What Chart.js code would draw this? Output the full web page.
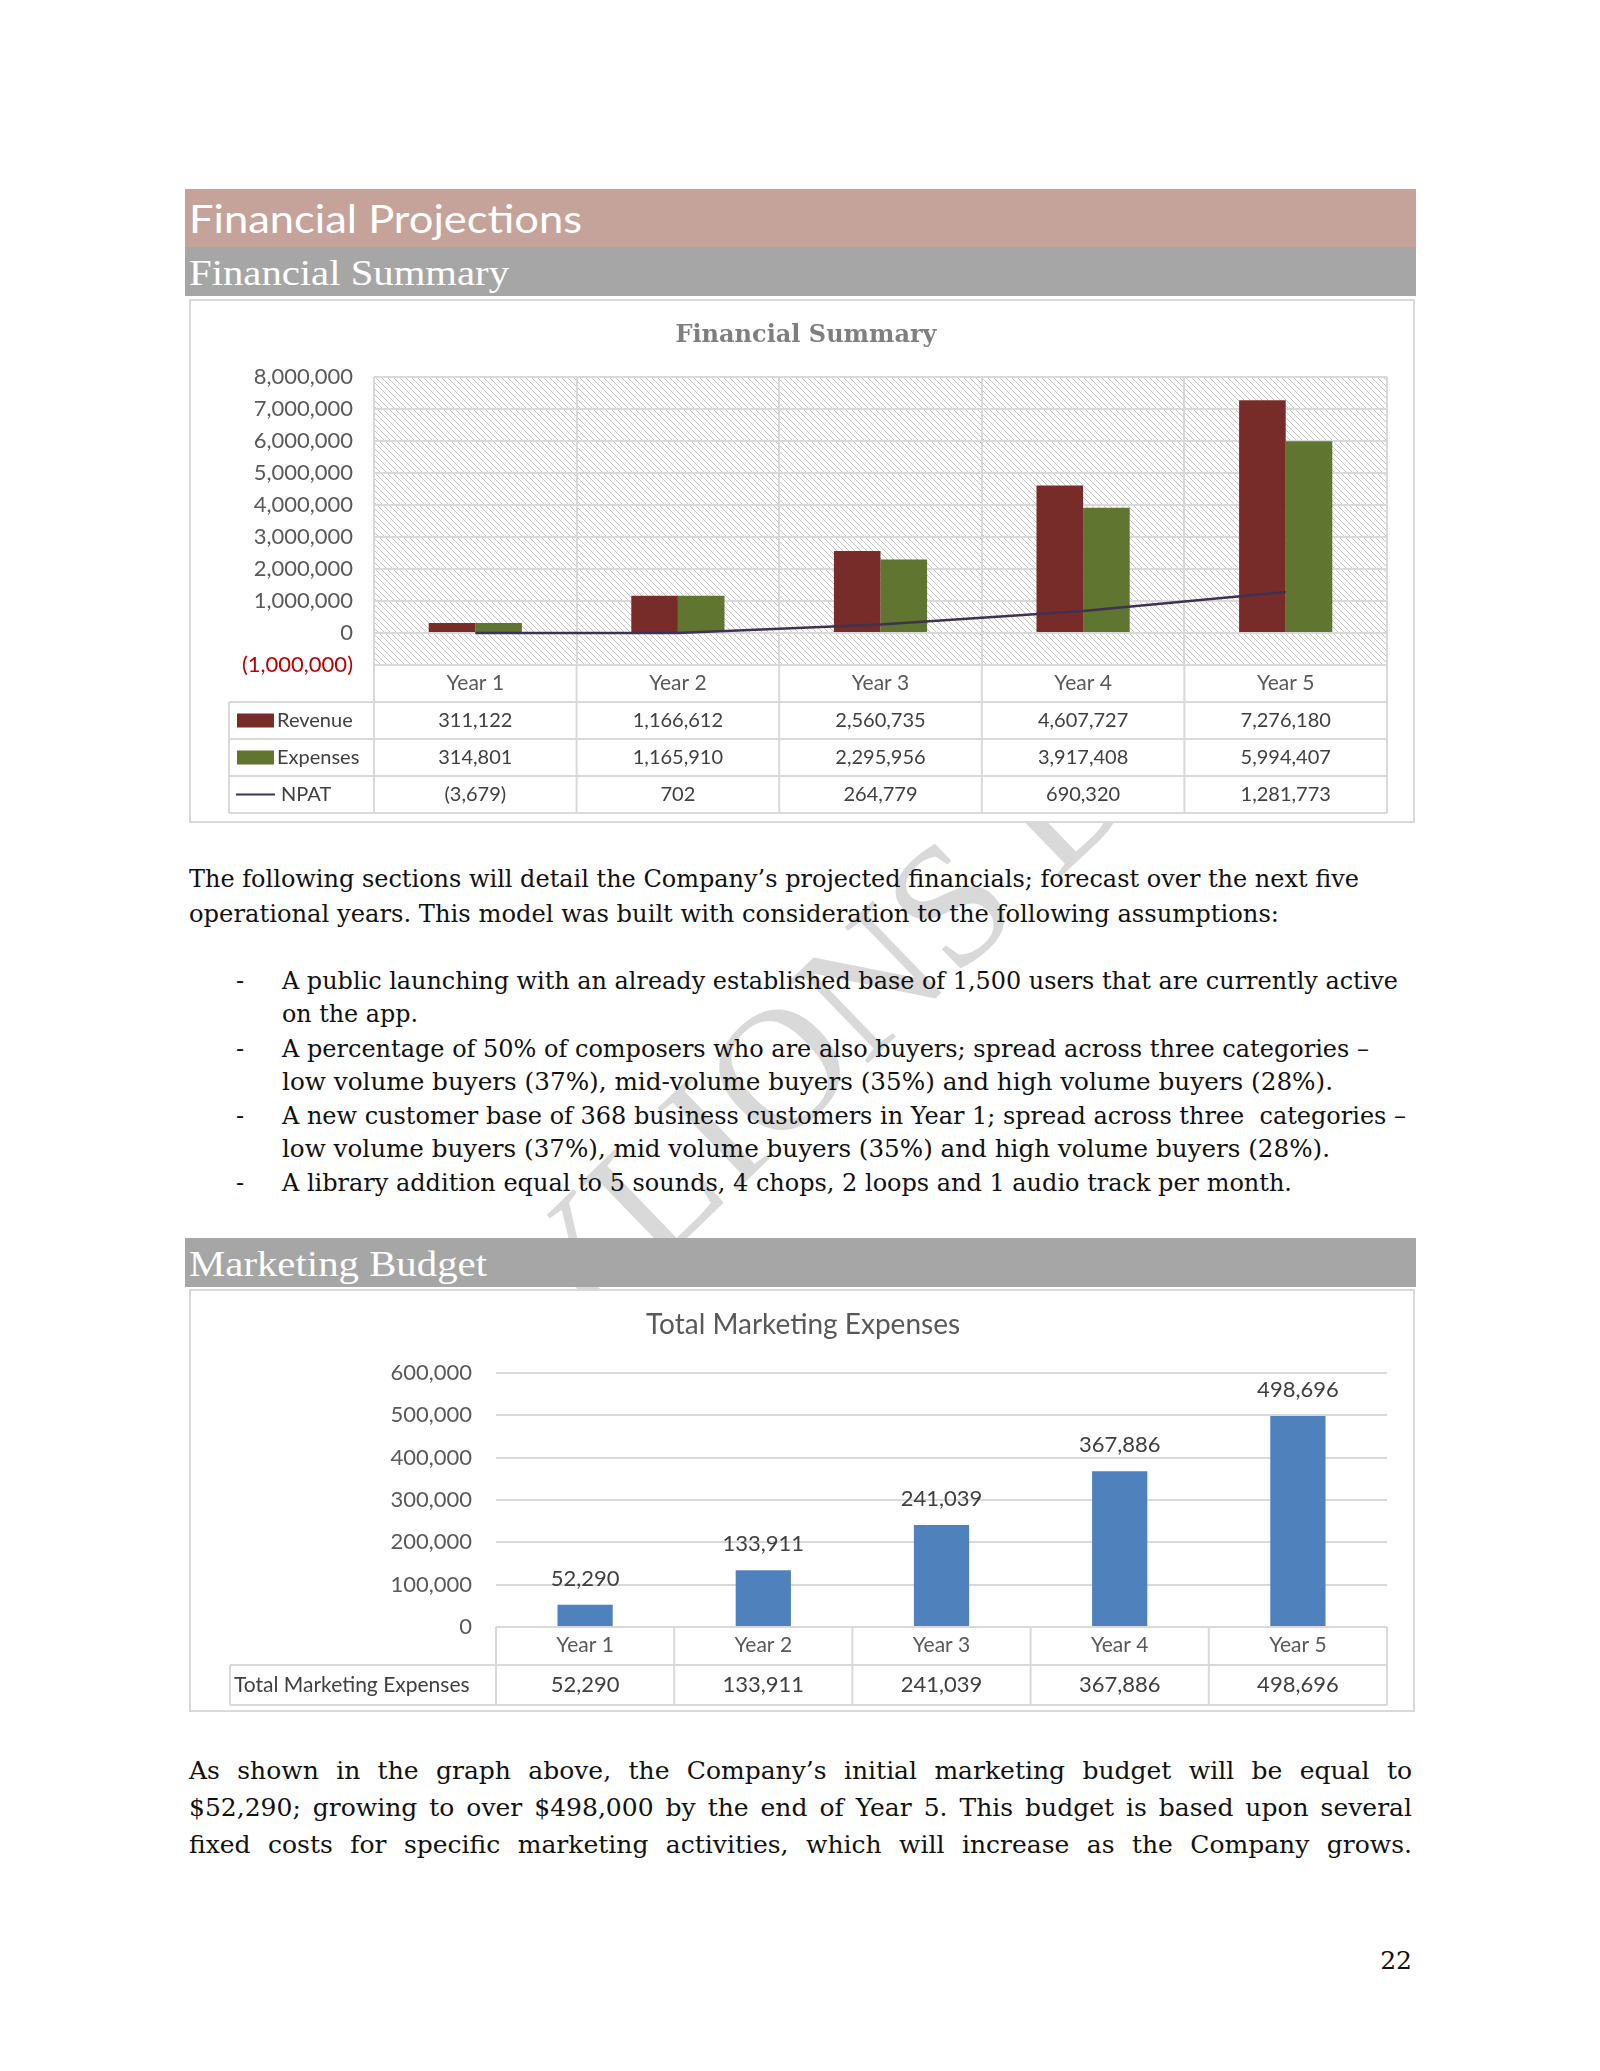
<!DOCTYPE html>
<html>
<head>
<meta charset="utf-8">
<script src="https://cdn.jsdelivr.net/npm/chart.js@4.4.1/dist/chart.umd.min.js"></script>
<style>
  body { margin: 0; background: #fff; }
  #page { position: relative; width: 1600px; height: 2071px; overflow: hidden; background: #fff; }
  .abs { position: absolute; }
  .bar { position: absolute; left: 185px; width: 1231px; }
  .line { position: absolute; white-space: nowrap; font-family: "DejaVu Serif", serif; font-size: 24px;
          line-height: 34px; color: #111; transform-origin: 0 50%; }
  .fit { display: inline-block; white-space: nowrap; transform-origin: 0 50%; }
  .just { position: absolute; left: 189px; width: 1223px; font-family: "DejaVu Serif", serif; font-size: 25px;
          line-height: 36px; color: #111; text-align: justify; text-align-last: justify; }
  .box { position: absolute; left: 189px; width: 1222px; border: 2px solid #d9d9d9; background: #fff; }
  .box div { position: relative; width: 1222px; }
  #wm { position: absolute; left: 490px; top: 1140px; font-family: "Liberation Serif", serif; font-size: 174px;
        line-height: 174px; height: 174px; color: #d9d9d9; white-space: nowrap;
        transform-origin: 125px 50%; transform: rotate(-44deg); }
</style>
</head>
<body>
<div id="page">
  <div id="wm">YLIONS DEN</div>

  <div class="bar" style="top:189px;height:58px;background:#c5a39b;"></div>
  <div class="abs" style="left:189px;top:194px;line-height:48px;font-family:Lato,sans-serif;font-size:38px;color:#fff;">
    <span class="fit" data-w="393">Financial Projections</span></div>
  <div class="bar" style="top:247px;height:49px;background:#a6a6a6;"></div>
  <div class="abs" style="left:189px;top:250px;line-height:46px;font-family:'Liberation Serif',serif;font-size:36px;color:#fff;">
    <span class="fit" data-w="320">Financial Summary</span></div>

  <div class="box" style="top:299px;height:520px;"><div style="height:520px;"><canvas id="c1"></canvas></div></div>

  <div class="line" style="left:189px;top:862px;"><span class="fit" data-w="1170">The following sections will detail the Company’s projected financials; forecast over the next five</span></div>
  <div class="line" style="left:189px;top:897px;"><span class="fit" data-w="1090">operational years. This model was built with consideration to the following assumptions:</span></div>

  <div class="line" style="left:236px;top:964px;">-</div>
  <div class="line" style="left:282px;top:964px;"><span class="fit" data-w="1116">A public launching with an already established base of 1,500 users that are currently active</span></div>
  <div class="line" style="left:282px;top:997px;"><span class="fit" data-w="136">on the app.</span></div>
  <div class="line" style="left:236px;top:1032px;">-</div>
  <div class="line" style="left:282px;top:1032px;"><span class="fit" data-w="1087">A percentage of 50% of composers who are also buyers; spread across three categories –</span></div>
  <div class="line" style="left:282px;top:1065px;"><span class="fit" data-w="1051">low volume buyers (37%), mid-volume buyers (35%) and high volume buyers (28%).</span></div>
  <div class="line" style="left:236px;top:1099px;">-</div>
  <div class="line" style="left:282px;top:1099px;"><span class="fit" data-w="1124">A new customer base of 368 business customers in Year 1; spread across three&nbsp; categories –</span></div>
  <div class="line" style="left:282px;top:1132px;"><span class="fit" data-w="1048">low volume buyers (37%), mid volume buyers (35%) and high volume buyers (28%).</span></div>
  <div class="line" style="left:236px;top:1166px;">-</div>
  <div class="line" style="left:282px;top:1166px;"><span class="fit" data-w="1010">A library addition equal to 5 sounds, 4 chops, 2 loops and 1 audio track per month.</span></div>

  <div class="bar" style="top:1238px;height:49px;background:#a6a6a6;"></div>
  <div class="abs" style="left:189px;top:1241px;line-height:46px;font-family:'Liberation Serif',serif;font-size:36px;color:#fff;">
    <span class="fit" data-w="298">Marketing Budget</span></div>

  <div class="box" style="top:1289px;height:419px;"><div style="height:419px;"><canvas id="c2"></canvas></div></div>

  <div class="just" style="top:1753px;">As shown in the graph above, the Company’s initial marketing budget will be equal to</div>
  <div class="just" style="top:1790px;">$52,290; growing to over $498,000 by the end of Year 5. This budget is based upon several</div>
  <div class="just" style="top:1827px;">fixed costs for specific marketing activities, which will increase as the Company grows.</div>

  <div class="abs" style="left:1300px;width:112px;top:1944px;text-align:right;font-family:'DejaVu Serif',serif;font-size:25px;line-height:34px;color:#111;">22</div>
</div>

<script>
// datos de los graficos
var years = ['Year 1', 'Year 2', 'Year 3', 'Year 4', 'Year 5'];
var revenue = [311122, 1166612, 2560735, 4607727, 7276180];
var expenses = [314801, 1165910, 2295956, 3917408, 5994407];
var npat = [-3679, 702, 264779, 690320, 1281773];
var marketing = [52290, 133911, 241039, 367886, 498696];
var summaryTicks = [-1000000, 8000000, 1000000];   // min, max, paso
var marketingTicks = [0, 600000, 100000];

var gridColor = '#d9d9d9';
var labelColor = '#595959';
var textColor = '#404040';

function fmt(v) {
    return v < 0 ? '(' + (-v).toLocaleString('en-US') + ')' : v.toLocaleString('en-US');
}

// ajustar el ancho de las lineas de texto
document.querySelectorAll('.fit').forEach(function (el) {
    var w = el.getBoundingClientRect().width;
    el.style.transform = 'scaleX(' + (+el.dataset.w / w) + ')';
});

// fondo rayado del area del grafico
var hatch = {
    id: 'hatch',
    beforeDraw: function (chart) {
        var tile = document.createElement('canvas');
        tile.width = 6; tile.height = 6;
        var t = tile.getContext('2d');
        t.strokeStyle = '#c4c4c4';
        t.lineWidth = 1;
        t.beginPath(); t.moveTo(0, 0); t.lineTo(6, 6); t.stroke();
        t.beginPath(); t.moveTo(-1, 5); t.lineTo(1, 7); t.stroke();
        t.beginPath(); t.moveTo(5, -1); t.lineTo(7, 1); t.stroke();
        var a = chart.chartArea, ctx = chart.ctx;
        ctx.save();
        ctx.fillStyle = ctx.createPattern(tile, 'repeat');
        ctx.fillRect(a.left, a.top, a.right - a.left, a.bottom - a.top);
        ctx.restore();
    }
};

function hline(ctx, x1, x2, y) { ctx.beginPath(); ctx.moveTo(x1, y); ctx.lineTo(x2, y); ctx.stroke(); }
function vline(ctx, x, y1, y2) { ctx.beginPath(); ctx.moveTo(x, y1); ctx.lineTo(x, y2); ctx.stroke(); }

// tabla de datos debajo del grafico 1
var table1 = {
    id: 'table1',
    afterDraw: function (chart) {
        var ctx = chart.ctx, a = chart.chartArea, xs = chart.scales.x;
        var w = (a.right - a.left) / years.length;
        var rowH = 37, legL = a.left - 145, bottom = a.bottom + rowH * 4;
        ctx.save();
        ctx.strokeStyle = gridColor; ctx.lineWidth = 2;
        for (var i = 0; i <= years.length; i++) vline(ctx, a.left + i * w, a.bottom, bottom);
        vline(ctx, legL, a.bottom + rowH, bottom);
        for (var k = 1; k <= 4; k++) hline(ctx, legL, a.right, a.bottom + rowH * k);

        var rows = [
            { name: 'Revenue', data: revenue, color: '#772c2a', kind: 'box' },
            { name: 'Expenses', data: expenses, color: '#5f7530', kind: 'box' },
            { name: 'NPAT', data: npat, color: '#3f3151', kind: 'line' }
        ];
        ctx.font = '20px Lato';
        ctx.textBaseline = 'middle';
        rows.forEach(function (r, j) {
            var cy = a.bottom + rowH * (j + 1) + rowH / 2;
            ctx.fillStyle = r.color;
            if (r.kind === 'box') {
                ctx.fillRect(legL + 8, cy - 7, 37, 14);
                ctx.fillStyle = textColor; ctx.textAlign = 'left';
                ctx.fillText(r.name, legL + 48, cy);
            } else {
                ctx.strokeStyle = r.color; ctx.lineWidth = 2;
                hline(ctx, legL + 7, legL + 46, cy);
                ctx.fillStyle = textColor; ctx.textAlign = 'left';
                ctx.fillText(r.name, legL + 52, cy);
            }
            ctx.textAlign = 'center';
            r.data.forEach(function (v, i) {
                ctx.fillText(fmt(v), xs.getPixelForValue(i), cy);
            });
        });
        ctx.restore();
    }
};

// tabla del grafico 2
var table2 = {
    id: 'table2',
    afterDraw: function (chart) {
        var ctx = chart.ctx, a = chart.chartArea, xs = chart.scales.x;
        var w = (a.right - a.left) / years.length;
        var headH = 38, rowH = 40, legL = a.left - 266, bottom = a.bottom + headH + rowH;
        ctx.save();
        ctx.strokeStyle = gridColor; ctx.lineWidth = 2;
        for (var i = 0; i <= years.length; i++) vline(ctx, a.left + i * w, a.bottom, bottom);
        vline(ctx, legL, a.bottom + headH, bottom);
        hline(ctx, legL, a.right, a.bottom + headH);
        hline(ctx, legL, a.right, bottom);
        var cy = a.bottom + headH + rowH / 2;
        ctx.fillStyle = textColor;
        ctx.textBaseline = 'middle';
        ctx.font = '21px Lato';
        ctx.textAlign = 'left';
        ctx.fillText('Total Marketing Expenses', legL + 4, cy);
        ctx.font = '22px Lato';
        ctx.textAlign = 'center';
        marketing.forEach(function (v, i) { ctx.fillText(fmt(v), xs.getPixelForValue(i), cy); });

        // etiquetas encima de las barras
        var meta = chart.getDatasetMeta(0);
        meta.data.forEach(function (bar, i) { ctx.fillText(fmt(marketing[i]), bar.x, bar.y - 26); });
        ctx.restore();
    }
};

new Chart(document.getElementById('c1'), {
    type: 'bar',
    data: {
        labels: years,
        datasets: [
            { type: 'line', label: 'NPAT', data: npat, borderColor: '#3f3151', borderWidth: 2.5,
              pointRadius: 0, fill: false, tension: 0, order: 0 },
            { label: 'Revenue', data: revenue, backgroundColor: '#772c2a', order: 1 },
            { label: 'Expenses', data: expenses, backgroundColor: '#5f7530', order: 1 }
        ]
    },
    options: {
        responsive: true, maintainAspectRatio: false, animation: false,
        layout: { padding: { left: 34, right: 26, top: 0, bottom: 8 } },
        datasets: { bar: { categoryPercentage: 0.46, barPercentage: 1 } },
        plugins: {
            legend: { display: false }, tooltip: { enabled: false },
            title: { display: true, text: 'Financial Summary', color: '#7f7f7f',
                     font: { family: 'DejaVu Serif', size: 24, weight: 'bold' },
                     padding: { top: 20.6, bottom: 26.6 } }
        },
        scales: {
            x: {
                grid: { offset: true, color: gridColor, lineWidth: 2, drawTicks: false },
                border: { display: false },
                ticks: { font: { family: 'Lato', size: 21 }, color: labelColor, padding: 6 },
                afterFit: function (ax) { ax.height = 148; }
            },
            y: {
                min: summaryTicks[0], max: summaryTicks[1],
                grid: { color: gridColor, lineWidth: 2, drawTicks: false },
                border: { display: false },
                ticks: {
                    stepSize: summaryTicks[2], padding: 21,
                    font: { family: 'Lato', size: 22 },
                    color: function (c) { return c.tick && c.tick.value < 0 ? '#c00000' : labelColor; },
                    callback: function (v) { return fmt(v); }
                },
                afterFit: function (ax) { ax.width = 149; }
            }
        }
    },
    plugins: [hatch, table1]
});

new Chart(document.getElementById('c2'), {
    type: 'bar',
    data: {
        labels: years,
        datasets: [{ label: 'Total Marketing Expenses', data: marketing, backgroundColor: '#4f81bd',
                     categoryPercentage: 1, barPercentage: 0.31 }]
    },
    options: {
        responsive: true, maintainAspectRatio: false, animation: false,
        layout: { padding: { left: 28, right: 26, top: 0, bottom: 5 } },
        plugins: {
            legend: { display: false }, tooltip: { enabled: false },
            title: { display: true, text: 'Total Marketing Expenses', color: labelColor,
                     font: { family: 'Lato', size: 28, weight: 'normal' },
                     padding: { top: 17.2, bottom: 31.2 } }
        },
        scales: {
            x: {
                grid: { display: false, drawTicks: false },
                border: { display: false },
                ticks: { font: { family: 'Lato', size: 21 }, color: labelColor, padding: 6 },
                afterFit: function (ax) { ax.height = 78; }
            },
            y: {
                min: marketingTicks[0], max: marketingTicks[1],
                grid: { color: gridColor, lineWidth: 2, drawTicks: false },
                border: { display: false },
                ticks: { stepSize: marketingTicks[2], padding: 24, font: { family: 'Lato', size: 22 },
                         color: labelColor, callback: function (v) { return fmt(v); } },
                afterFit: function (ax) { ax.width = 277; }
            }
        }
    },
    plugins: [table2]
});
</script>
</body>
</html>
